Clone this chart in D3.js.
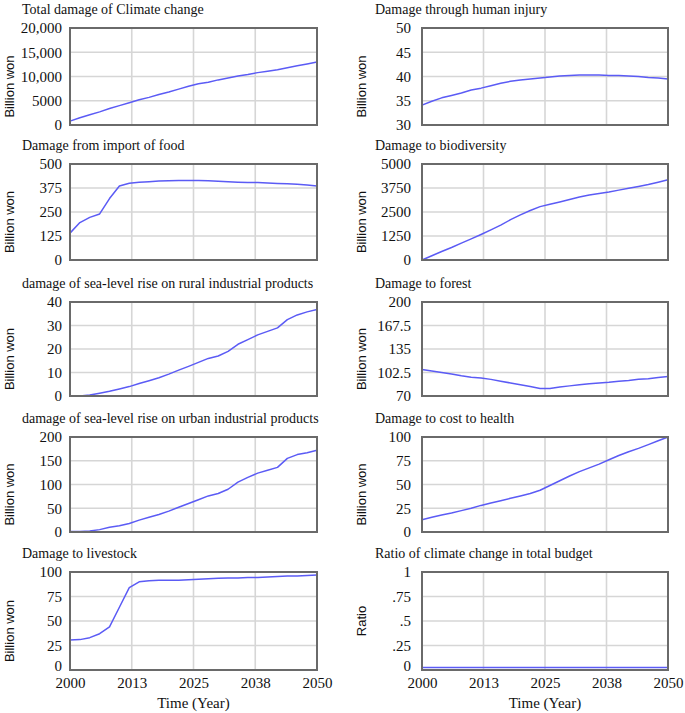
<!DOCTYPE html>
<html>
<head>
<meta charset="utf-8">
<script src="https://cdn.jsdelivr.net/npm/d3@7"></script>
<style>
  html, body { margin: 0; padding: 0; background: #fff; }
  svg { display: block; }
  .serif { font-family: "Liberation Serif", "Times New Roman", Times, "DejaVu Serif", serif; }
  .sans { font-family: "Liberation Sans", Arial, Helvetica, sans-serif; }
</style>
</head>
<body>
<svg id="chart" width="685" height="713"></svg>
<script>
// ---------------- DATA ----------------
const years = [2000, 2002, 2004, 2006, 2008, 2010, 2012, 2014, 2016, 2018, 2020, 2022, 2024,
               2026, 2028, 2030, 2032, 2034, 2036, 2038, 2040, 2042, 2044, 2046, 2048, 2050];

const xTickValues = [2000, 2012.5, 2025, 2037.5, 2050];
const xTickLabels = ["2000", "2013", "2025", "2038", "2050"];

const totalDamage = [800, 1500, 2100, 2700, 3400, 4000, 4600, 5200, 5700, 6300, 6800, 7400, 8000,
                     8500, 8800, 9300, 9700, 10100, 10400, 10800, 11100, 11400, 11800, 12200, 12600, 13000];
const humanInjury = [34.1, 34.9, 35.6, 36.1, 36.6, 37.2, 37.6, 38.1, 38.6, 39.0, 39.3, 39.5, 39.7,
                     39.9, 40.1, 40.2, 40.3, 40.3, 40.3, 40.2, 40.2, 40.1, 40.0, 39.8, 39.7, 39.5];
const importFood = [140, 195, 222, 240, 320, 385, 400, 405, 408, 411, 413, 414, 414,
                    414, 413, 410, 407, 405, 404, 403, 401, 399, 397, 394, 390, 386];
const biodiversity = [0, 220, 440, 650, 880, 1100, 1330, 1570, 1820, 2100, 2350, 2580, 2780,
                      2900, 3020, 3150, 3280, 3380, 3460, 3540, 3640, 3740, 3830, 3930, 4050, 4180];
const ruralSeaLevel = [0, 0, 0.4, 1.2, 2.0, 3.0, 4.0, 5.3, 6.5, 7.8, 9.3, 11.0, 12.6,
                       14.3, 16.0, 17.0, 19.0, 22.0, 24.0, 26.0, 27.5, 29.0, 32.5, 34.5, 35.8, 36.8];
const forest = [106.5, 104.5, 102.5, 100.5, 98, 96, 95, 93, 90.5, 88, 85.5, 83, 80.5,
                80.5, 82.5, 84, 85.5, 87, 88, 89, 90.5, 91.5, 93, 94, 95.5, 97];
const urbanSeaLevel = [1, 1, 2, 5, 10, 13, 18, 25, 31, 37, 44, 52, 60,
                       68, 76, 81, 90, 105, 115, 124, 130, 136, 155, 163, 167, 172];
const health = [13, 15.5, 18, 20, 22.5, 25, 28, 30.5, 33, 35.5, 38, 40.5, 44,
                49, 54, 59, 63.5, 67.5, 71.5, 76, 80.5, 84.5, 88, 92, 96, 100];
const livestock = [30.5, 31, 33, 37, 44, 64, 84, 90, 91, 91.5, 91.5, 91.5, 92,
                   92.5, 93, 93.5, 94, 94, 94.5, 94.5, 95, 95.5, 96, 96, 96.5, 97];
const budgetRatio = [0.025, 0.025, 0.025, 0.025, 0.025, 0.025, 0.025, 0.025, 0.025, 0.025, 0.025, 0.025, 0.025,
                     0.025, 0.025, 0.025, 0.025, 0.025, 0.025, 0.025, 0.025, 0.025, 0.025, 0.025, 0.025, 0.025];

const titles = ["Total damage of Climate change", "Damage through human injury",
                "Damage from import of food", "Damage to biodiversity",
                "damage of sea-level rise on rural industrial products", "Damage to forest",
                "damage of sea-level rise on urban industrial products", "Damage to cost to health",
                "Damage to livestock", "Ratio of climate change in total budget"];
const yLabels = ["Billion won", "Billion won", "Billion won", "Billion won", "Billion won",
                 "Billion won", "Billion won", "Billion won", "Billion won", "Ratio"];
const yTickValues = [
  [0, 5000, 10000, 15000, 20000], [30, 35, 40, 45, 50],
  [0, 125, 250, 375, 500], [0, 1250, 2500, 3750, 5000],
  [0, 10, 20, 30, 40], [70, 102.5, 135, 167.5, 200],
  [0, 50, 100, 150, 200], [0, 25, 50, 75, 100],
  [0, 25, 50, 75, 100], [0, 0.25, 0.5, 0.75, 1]];
const yTickLabels = [
  ["0", "5000", "10,000", "15,000", "20,000"], ["30", "35", "40", "45", "50"],
  ["0", "125", "250", "375", "500"], ["0", "1250", "2500", "3750", "5000"],
  ["0", "10", "20", "30", "40"], ["70", "102.5", "135", "167.5", "200"],
  ["0", "50", "100", "150", "200"], ["0", "25", "50", "75", "100"],
  ["0", "25", "50", "75", "100"], ["0", ".25", ".5", ".75", "1"]];
const seriesList = [totalDamage, humanInjury, importFood, biodiversity, ruralSeaLevel,
                    forest, urbanSeaLevel, health, livestock, budgetRatio];

// ---------------- LAYOUT ----------------
const colX = [{left: 70, right: 317, labelRight: 62, yLabelX: 10, titleX: 22},
              {left: 422, right: 668, labelRight: 411, yLabelX: 362, titleX: 375}];
const rowY = [{top: 28, bottom: 125}, {top: 164, bottom: 260}, {top: 302, bottom: 396},
              {top: 437, bottom: 532}, {top: 572, bottom: 670}];

const svg = d3.select("#chart");

seriesList.forEach((vals, i) => {
  const c = colX[i % 2], r = rowY[Math.floor(i / 2)];
  const isBottom = Math.floor(i / 2) === 4;
  const ticks = yTickValues[i];
  const x = d3.scaleLinear().domain([2000, 2050]).range([c.left, c.right]);
  const y = d3.scaleLinear().domain([ticks[0], ticks[ticks.length - 1]]).range([r.bottom, r.top]);
  const g = svg.append("g");

  // title
  g.append("text").attr("class", "serif").attr("x", c.titleX).attr("y", r.top - 14)
    .style("font-size", "14px").attr("fill", "#111")
    .text(titles[i]);

  // grid
  g.append("g").selectAll("line").data(xTickValues.slice(1, -1)).join("line")
    .attr("x1", d => x(d)).attr("x2", d => x(d))
    .attr("y1", r.top).attr("y2", r.bottom)
    .attr("stroke", "#d6d6d6").attr("stroke-width", 1.6);
  g.append("g").selectAll("line").data(ticks.slice(1, -1)).join("line")
    .attr("x1", c.left).attr("x2", c.right)
    .attr("y1", d => y(d)).attr("y2", d => y(d))
    .attr("stroke", "#d6d6d6").attr("stroke-width", 1.6);

  // line
  const line = d3.line().x((d, k) => x(years[k])).y(d => y(d));
  g.append("path").datum(vals).attr("d", line)
    .attr("fill", "none").attr("stroke", "#5b5bf5").attr("stroke-width", 1.5)
    .attr("stroke-linejoin", "round");

  // frame
  g.append("rect").attr("x", c.left).attr("y", r.top)
    .attr("width", c.right - c.left).attr("height", r.bottom - r.top)
    .attr("fill", "none").attr("stroke", "#6a6a6a").attr("stroke-width", 2);

  // y axis tick labels (via d3 axis, domain hidden)
  const yAxis = d3.axisLeft(y).tickValues(ticks).tickSize(0)
    .tickFormat((d, k) => yTickLabels[i][k]);
  const ya = g.append("g").attr("transform", `translate(${c.labelRight},0)`).call(yAxis)
    .attr("font-family", null).attr("font-size", null);
  ya.select(".domain").remove();
  ya.selectAll("text").attr("class", "serif").style("font-size", "15px")
    .attr("fill", "#111").attr("x", 0).attr("dy", "0.33em")
    .attr("transform", (d, k) => (isBottom && k === 0) ? "translate(0,-4)" : null);

  // y label
  const yMid = (r.top + r.bottom) / 2 + (yLabels[i] === "Ratio" ? 0 : 10);
  g.append("text").attr("class", "sans")
    .attr("transform", `translate(${c.yLabelX + 4},${yMid}) rotate(-90)`)
    .attr("text-anchor", "middle").style("font-size", "13px")
    .attr("fill", "#111").text(yLabels[i]);

  // x axis labels on bottom row
  if (isBottom) {
    const xAxis = d3.axisBottom(x).tickValues(xTickValues).tickSize(0)
      .tickFormat((d, k) => xTickLabels[k]);
    const xa = g.append("g").attr("transform", `translate(0,${r.bottom})`).call(xAxis)
      .attr("font-family", null).attr("font-size", null);
    xa.select(".domain").remove();
    xa.selectAll("text").attr("class", "serif").style("font-size", "15px")
      .attr("fill", "#111").attr("y", 7);
    g.append("text").attr("class", "serif").attr("x", (c.left + c.right) / 2).attr("y", 708)
      .attr("text-anchor", "middle").style("font-size", "15px")
      .attr("fill", "#111").text("Time (Year)");
  }
});
</script>
</body>
</html>
